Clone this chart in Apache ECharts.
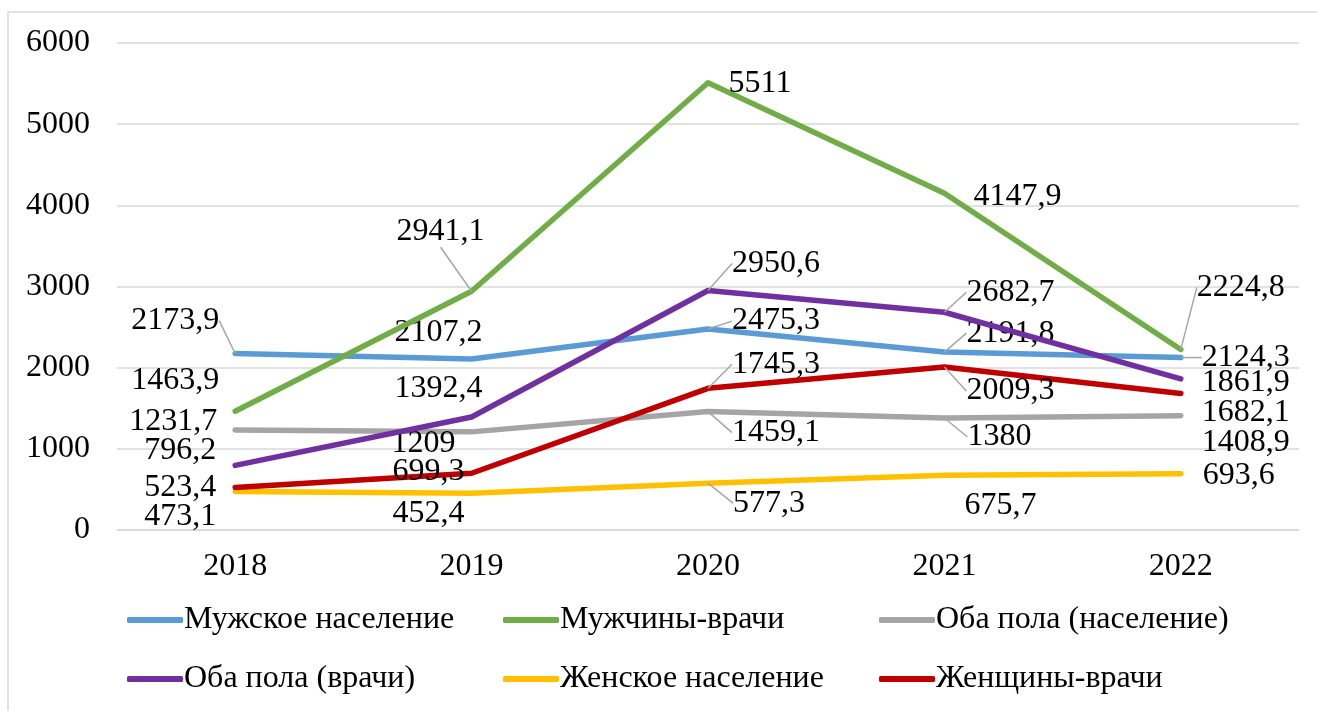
<!DOCTYPE html>
<html>
<head>
<meta charset="utf-8">
<script src="https://cdn.jsdelivr.net/npm/echarts@6/dist/echarts.min.js"></script>
<style>
  html, body { margin: 0; padding: 0; background: #fff; }
  #chart { width: 1317px; height: 711px; }
</style>
</head>
<body>
<div id="chart"></div>
<script>
// годы
const years = ['2018', '2019', '2020', '2021', '2022']

// значения рядов
const malePopulation = [2173.9, 2107.2, 2475.3, 2191.8, 2124.3]
const maleDoctors = [1463.9, 2941.1, 5511, 4147.9, 2224.8]
const bothPopulation = [1231.7, 1209, 1459.1, 1380, 1408.9]
const bothDoctors = [796.2, 1392.4, 2950.6, 2682.7, 1861.9]
const femalePopulation = [473.1, 452.4, 577.3, 675.7, 693.6]
const femaleDoctors = [523.4, 699.3, 1745.3, 2009.3, 1682.1]

const seriesNames = [
  'Мужское население',
  'Мужчины-врачи',
  'Оба пола (население)',
  'Оба пола (врачи)',
  'Женское население',
  'Женщины-врачи'
]
const seriesValues = [malePopulation, maleDoctors, bothPopulation, bothDoctors, femalePopulation, femaleDoctors]
const colors = ['#5B9BD5', '#70AD47', '#A5A5A5', '#7030A0', '#FFC000', '#C00000']

// смещения подписей относительно точек (px)
const labelShift = [
  [[-60, -33], [-33, -26], [68, -8], [66, -19], [65, 0]],
  [[-60, -31], [-31, -60], [52, 1], [73, 3], [60, -62]],
  [[-62, -8], [-48, 12], [68, 21], [55, 19], [65, 27]],
  [[-55, -15], [-33, -28], [68, -27], [66, -20], [65, 4]],
  [[-55, 25], [-43, 20], [61, 20], [56, 30], [58, 2]],
  [[-55, 0], [-43, -2], [68, -24], [66, 24], [65, 19]]
]
// где нужны линии выноски
const withLine = [
  [1, 0, 1, 1, 1],
  [0, 1, 0, 0, 1],
  [0, 0, 1, 1, 0],
  [0, 0, 1, 1, 0],
  [0, 0, 1, 0, 0],
  [0, 0, 1, 1, 0]
]

const font = "'Liberation Serif', 'Times New Roman', serif"
const fmt = (v) => String(v).replace('.', ',')

const chart = echarts.init(document.getElementById('chart'))

const series = seriesNames.map((name, si) => ({
  name: name,
  type: 'line',
  data: seriesValues[si].map((v, di) => ({
    value: v,
    labelLine: { show: !!withLine[si][di] }
  })),
  symbol: 'circle',
  symbolSize: 0.1,
  itemStyle: { color: colors[si] },
  lineStyle: { color: colors[si], width: 5.5, cap: 'round', join: 'round' },
  emphasis: { disabled: true },
  label: {
    show: true,
    position: 'inside',
    color: '#000',
    fontFamily: font,
    fontSize: 32,
    formatter: (p) => fmt(p.value)
  },
  labelLine: {
    lineStyle: { color: '#A6A6A6', width: 1.5 }
  },
  labelLayout: (p) => ({
    dx: labelShift[si][p.dataIndex][0],
    dy: labelShift[si][p.dataIndex][1]
  }),
  z: 2 + si
}))

const option = {
  backgroundColor: '#fff',
  animation: false,
  color: colors,
  graphic: [
    {
      type: 'polyline',
      shape: { points: [[8, 711], [8, 12], [1317, 12]] },
      style: { stroke: '#D9D9D9', lineWidth: 1.5, fill: null }
    }
  ],
  grid: {
    left: 117,
    right: 18,
    top: 43,
    bottom: 181,
    containLabel: false
  },
  xAxis: {
    type: 'category',
    data: years,
    boundaryGap: true,
    axisLine: { show: true, lineStyle: { color: '#D9D9D9', width: 1.5 } },
    axisTick: { show: false },
    axisLabel: {
      color: '#000',
      fontFamily: font,
      fontSize: 32,
      margin: 21
    }
  },
  yAxis: {
    type: 'value',
    min: 0,
    max: 6000,
    interval: 1000,
    axisLine: { show: false },
    axisTick: { show: false },
    axisLabel: {
      color: '#000',
      fontFamily: font,
      fontSize: 32,
      margin: 27,
      formatter: (v) => String(v)
    },
    splitLine: { lineStyle: { color: '#D9D9D9', width: 1.5 } }
  },
  legend: {
    data: seriesNames,
    left: 122,
    top: 599,
    width: 1180,
    icon: 'roundRect',
    itemWidth: 56,
    itemHeight: 6,
    itemGap: 27,
    textStyle: {
      color: '#000',
      fontFamily: font,
      fontSize: 32,
      width: 292,
      lineHeight: 30,
      padding: [0, 0, 0, -4]
    }
  },
  series: series
}

chart.setOption(option)
</script>
</body>
</html>
